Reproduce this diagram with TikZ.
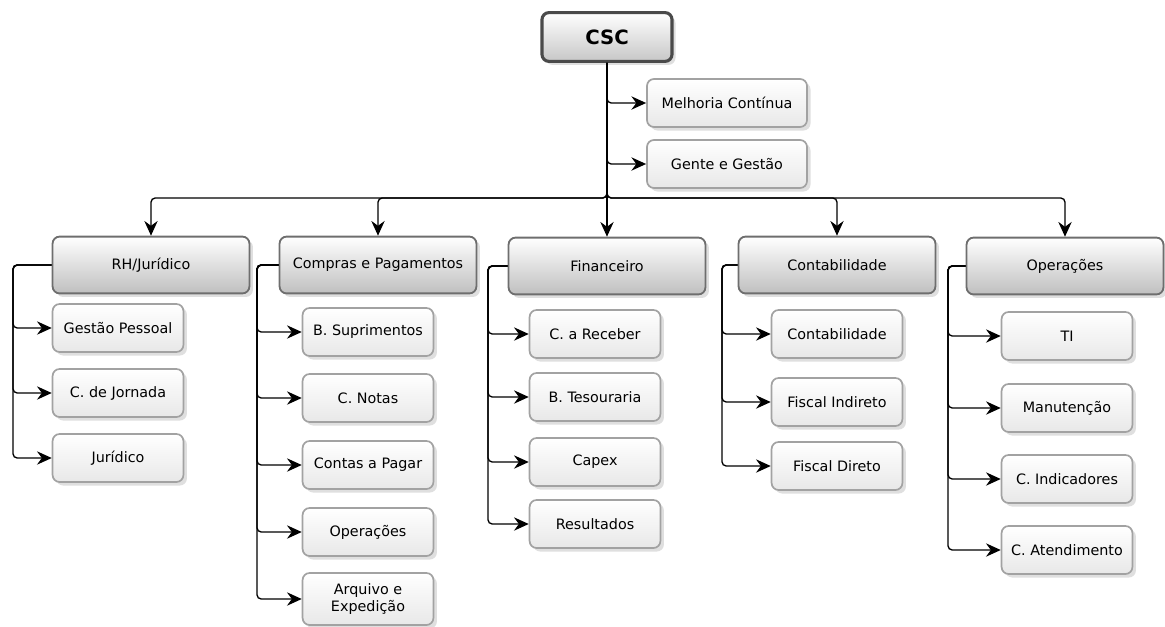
\documentclass[tikz,border=0pt]{standalone}
\usepackage{fontspec}
\setmainfont{DejaVu Sans}
\usetikzlibrary{shadows}
\usetikzlibrary{arrows.meta}

\definecolor{rootline}{HTML}{4A4A4A}
\definecolor{deptline}{HTML}{6E6E6E}
\definecolor{unitline}{HTML}{A2A2A2}

\begin{document}
\begin{tikzpicture}[x=0.025cm, y=-0.025cm]
    \tikzstyle{box}=[rectangle, rounded corners=5pt, align=center, font=\fontsize{10.2}{12}\selectfont, drop shadow={shadow xshift=2.5pt, shadow yshift=-2.5pt, opacity=0.25}]
    \tikzstyle{root}=[box, draw=rootline, line width=2.2pt, top color=white, bottom color=black!22, minimum width=3.25cm, minimum height=1.22cm, font=\fontsize{14}{16}\selectfont\bfseries]
    \tikzstyle{dept}=[box, draw=deptline, line width=1.3pt, top color=white, bottom color=black!25, minimum width=4.92cm, minimum height=1.42cm]
    \tikzstyle{unit}=[box, draw=unitline, line width=1.2pt, top color=white, bottom color=black!9, minimum width=3.27cm, minimum height=1.2cm]
    \tikzstyle{arrow}=[-{Stealth[length=10.5pt, width=9.5pt, inset=3.5pt]}, line width=0.95pt, rounded corners=3pt]
    \useasboundingbox (0,0) rectangle (1165,626);

    % nodes
    \node (csc) [root] at (607,37) {CSC};
    \node (mc) [unit, minimum width=4cm] at (727,103) {Melhoria Contínua};
    \node (gg) [unit, minimum width=4cm] at (727,164) {Gente e Gestão};

    \node (rh) [dept] at (151,265) {RH/Jurídico};
    \node (cp) [dept] at (378,265) {Compras e Pagamentos};
    \node (fin) [dept] at (607,266) {Financeiro};
    \node (cont) [dept] at (837,265) {Contabilidade};
    \node (ops) [dept] at (1065,266) {Operações};

    \node (gp) [unit] at (118,328) {Gestão Pessoal};
    \node (cj) [unit] at (118,393) {C. de Jornada};
    \node (jur) [unit] at (118,458) {Jurídico};

    \node (bs) [unit] at (368,332) {B. Suprimentos};
    \node (cn) [unit] at (368,398) {C. Notas};
    \node (cpag) [unit] at (368,465) {Contas a Pagar};
    \node (opc) [unit] at (368,532) {Operações};
    \node (arq) [unit, minimum height=1.3cm] at (368,599) {Arquivo e\\Expedição};

    \node (car) [unit] at (595,334) {C. a Receber};
    \node (bt) [unit] at (595,397) {B. Tesouraria};
    \node (capex) [unit] at (595,462) {Capex};
    \node (res) [unit] at (595,524) {Resultados};

    \node (ct) [unit] at (837,334) {Contabilidade};
    \node (fi) [unit] at (837,402) {Fiscal Indireto};
    \node (fd) [unit] at (837,466) {Fiscal Direto};

    \node (ti) [unit] at (1067,336) {TI};
    \node (man) [unit] at (1067,408) {Manutenção};
    \node (ci) [unit] at (1067,479) {C. Indicadores};
    \node (ca) [unit] at (1067,550) {C. Atendimento};

    % bus
    \coordinate (bus) at (607,198);
    \coordinate (rhbar) at (13,265);
    \coordinate (cpbar) at (257,265);
    \coordinate (finbar) at (488,266);
    \coordinate (contbar) at (722,265);
    \coordinate (opsbar) at (948,266);

    % arrows
    \draw[arrow] (csc.south) |- (mc.west);
    \draw[arrow] (csc.south) |- (gg.west);

    \draw[arrow] (csc.south) -- (bus) -| (rh.north);
    \draw[arrow] (csc.south) -- (bus) -| (cp.north);
    \draw[arrow] (csc.south) -- (csc.south |- fin.north);
    \draw[arrow] (csc.south) -- (bus) -| (cont.north);
    \draw[arrow] (csc.south) -- (bus) -| (ops.north);

    \draw[arrow] (rh.west) -- (rhbar) |- (gp.west);
    \draw[arrow] (rh.west) -- (rhbar) |- (cj.west);
    \draw[arrow] (rh.west) -- (rhbar) |- (jur.west);

    \draw[arrow] (cp.west) -- (cpbar) |- (bs.west);
    \draw[arrow] (cp.west) -- (cpbar) |- (cn.west);
    \draw[arrow] (cp.west) -- (cpbar) |- (cpag.west);
    \draw[arrow] (cp.west) -- (cpbar) |- (opc.west);
    \draw[arrow] (cp.west) -- (cpbar) |- (arq.west);

    \draw[arrow] (fin.west) -- (finbar) |- (car.west);
    \draw[arrow] (fin.west) -- (finbar) |- (bt.west);
    \draw[arrow] (fin.west) -- (finbar) |- (capex.west);
    \draw[arrow] (fin.west) -- (finbar) |- (res.west);

    \draw[arrow] (cont.west) -- (contbar) |- (ct.west);
    \draw[arrow] (cont.west) -- (contbar) |- (fi.west);
    \draw[arrow] (cont.west) -- (contbar) |- (fd.west);

    \draw[arrow] (ops.west) -- (opsbar) |- (ti.west);
    \draw[arrow] (ops.west) -- (opsbar) |- (man.west);
    \draw[arrow] (ops.west) -- (opsbar) |- (ci.west);
    \draw[arrow] (ops.west) -- (opsbar) |- (ca.west);
\end{tikzpicture}
\end{document}
